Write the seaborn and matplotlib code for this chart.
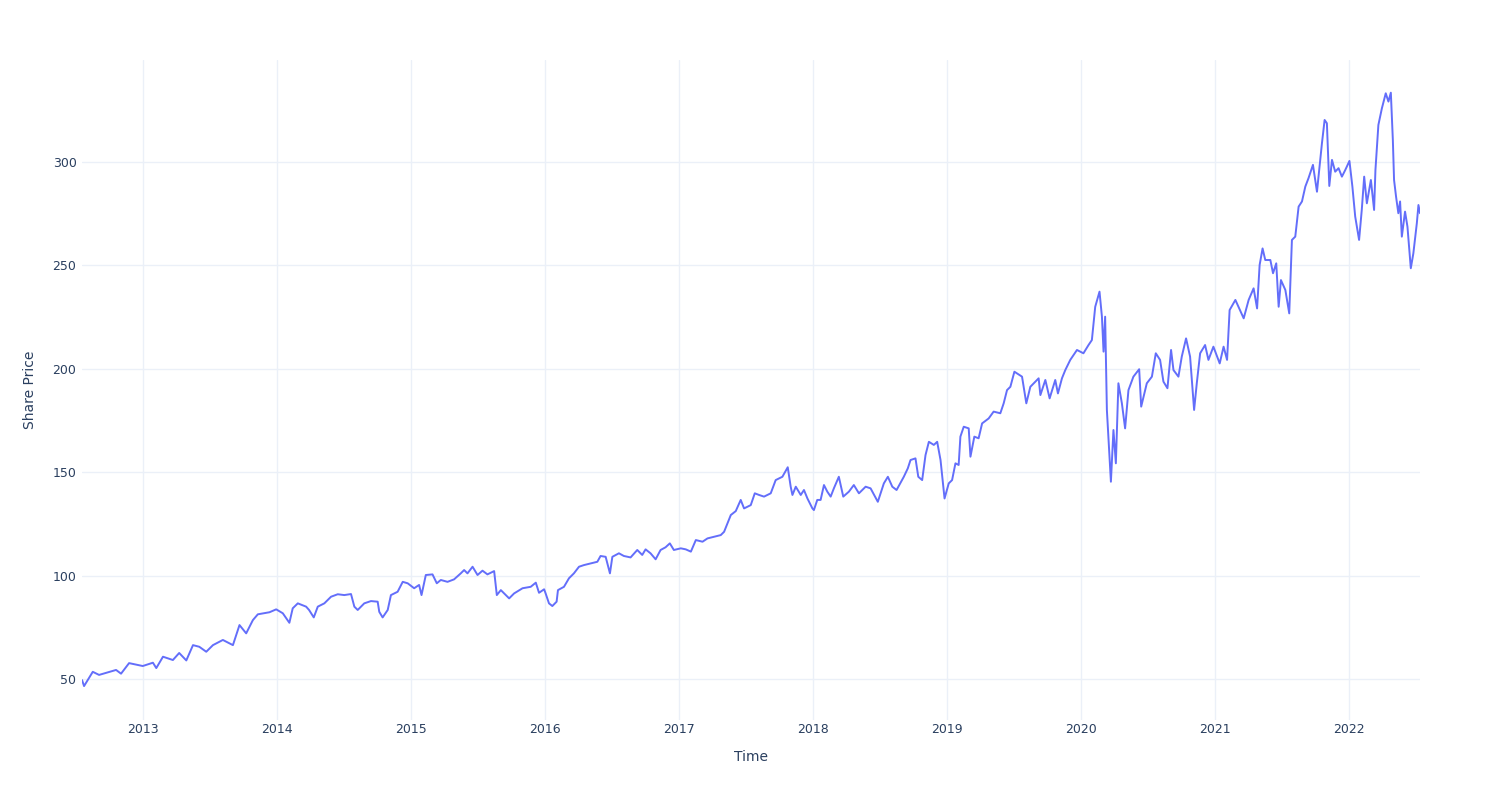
import pandas as pd
import matplotlib
matplotlib.use("Agg")
import matplotlib.pyplot as plt
import matplotlib.dates as mdates
import seaborn as sns

# Trading dates as fractional years
year_frac = [
    2012.545, 2012.560, 2012.625, 2012.672, 2012.799, 2012.836, 2012.896, 2012.998,
    2013.072, 2013.097, 2013.147, 2013.221, 2013.268, 2013.321, 2013.371, 2013.418,
    2013.470, 2013.520, 2013.594, 2013.669, 2013.718, 2013.768, 2013.818, 2013.855,
    2013.942, 2013.992, 2014.042, 2014.091, 2014.116, 2014.154, 2014.216, 2014.238,
    2014.273, 2014.303, 2014.352, 2014.402, 2014.452, 2014.501, 2014.551, 2014.576,
    2014.601, 2014.650, 2014.700, 2014.750, 2014.762, 2014.787, 2014.825, 2014.849,
    2014.899, 2014.937, 2014.974, 2015.023, 2015.060, 2015.078, 2015.110, 2015.160,
    2015.192, 2015.222, 2015.272, 2015.321, 2015.371, 2015.396, 2015.421, 2015.459,
    2015.496, 2015.533, 2015.570, 2015.620, 2015.640, 2015.670, 2015.732, 2015.769,
    2015.832, 2015.893, 2015.931, 2015.955, 2015.993, 2016.005, 2016.030, 2016.055,
    2016.087, 2016.097, 2016.142, 2016.179, 2016.216, 2016.254, 2016.291, 2016.341,
    2016.391, 2016.415, 2016.453, 2016.485, 2016.503, 2016.552, 2016.589, 2016.639,
    2016.689, 2016.726, 2016.751, 2016.788, 2016.826, 2016.863, 2016.900, 2016.932,
    2016.962, 2017.012, 2017.049, 2017.087, 2017.124, 2017.174, 2017.211, 2017.260,
    2017.310, 2017.335, 2017.385, 2017.422, 2017.459, 2017.484, 2017.534, 2017.564,
    2017.596, 2017.633, 2017.683, 2017.720, 2017.770, 2017.810, 2017.832, 2017.845,
    2017.870, 2017.907, 2017.931, 2017.957, 2017.994, 2018.006, 2018.031, 2018.056,
    2018.081, 2018.106, 2018.131, 2018.155, 2018.192, 2018.225, 2018.267, 2018.304,
    2018.342, 2018.392, 2018.429, 2018.483, 2018.528, 2018.558, 2018.591, 2018.623,
    2018.677, 2018.707, 2018.727, 2018.764, 2018.785, 2018.814, 2018.839, 2018.864,
    2018.901, 2018.926, 2018.951, 2018.981, 2019.013, 2019.038, 2019.063, 2019.087,
    2019.100, 2019.125, 2019.162, 2019.175, 2019.204, 2019.236, 2019.262, 2019.311,
    2019.348, 2019.398, 2019.423, 2019.448, 2019.473, 2019.503, 2019.560, 2019.592,
    2019.622, 2019.684, 2019.697, 2019.734, 2019.766, 2019.808, 2019.828, 2019.858,
    2019.883, 2019.920, 2019.970, 2020.019, 2020.057, 2020.082, 2020.107, 2020.139,
    2020.157, 2020.169, 2020.181, 2020.194, 2020.224, 2020.243, 2020.261, 2020.280,
    2020.306, 2020.330, 2020.355, 2020.392, 2020.435, 2020.450, 2020.492, 2020.530,
    2020.559, 2020.591, 2020.616, 2020.646, 2020.673, 2020.691, 2020.728, 2020.753,
    2020.785, 2020.815, 2020.845, 2020.865, 2020.890, 2020.927, 2020.952, 2020.989,
    2021.034, 2021.063, 2021.089, 2021.108, 2021.151, 2021.213, 2021.250, 2021.287,
    2021.313, 2021.332, 2021.354, 2021.374, 2021.412, 2021.432, 2021.456, 2021.474,
    2021.491, 2021.524, 2021.553, 2021.573, 2021.598, 2021.623, 2021.648, 2021.673,
    2021.697, 2021.730, 2021.760, 2021.797, 2021.817, 2021.834, 2021.852, 2021.872,
    2021.896, 2021.921, 2021.946, 2021.971, 2022.003, 2022.025, 2022.046, 2022.075,
    2022.095, 2022.113, 2022.133, 2022.163, 2022.187, 2022.197, 2022.219, 2022.245,
    2022.274, 2022.294, 2022.312, 2022.327, 2022.336, 2022.351, 2022.368, 2022.381,
    2022.394, 2022.418, 2022.436, 2022.461, 2022.480, 2022.506, 2022.518, 2022.530,
]

share_price = [
    49.5, 46.6, 53.5, 52.0, 54.4, 52.6, 57.7, 56.3,
    57.9, 55.3, 60.8, 59.2, 62.6, 59.0, 66.4, 65.6,
    63.2, 66.4, 68.9, 66.4, 76.1, 72.1, 78.5, 81.3,
    82.3, 83.7, 81.8, 77.2, 84.2, 86.6, 85.0, 83.4,
    79.8, 85.0, 86.6, 89.8, 91.0, 90.6, 91.1, 85.0,
    83.4, 86.6, 87.7, 87.4, 82.5, 79.8, 83.4, 90.6,
    92.2, 97.0, 96.3, 93.9, 95.5, 90.6, 100.3, 100.6,
    96.3, 97.9, 97.0, 98.2, 101.1, 102.7, 101.1, 104.3,
    100.3, 102.4, 100.6, 102.2, 90.6, 93.0, 89.0, 91.4,
    93.9, 94.6, 96.6, 91.7, 93.4, 91.4, 86.6, 85.3,
    87.4, 93.0, 94.6, 98.7, 101.1, 104.3, 105.1, 105.9,
    106.7, 109.5, 109.1, 101.1, 109.1, 110.8, 109.5, 108.8,
    112.4, 110.0, 112.7, 110.8, 107.9, 112.4, 113.7, 115.6,
    112.4, 113.2, 112.7, 111.6, 117.2, 116.4, 118.0, 118.8,
    119.6, 121.2, 129.3, 131.2, 136.6, 132.5, 134.1, 139.8,
    139.0, 138.2, 139.8, 146.2, 147.8, 152.4, 143.0, 139.0,
    143.0, 139.0, 141.4, 137.3, 132.5, 131.7, 136.6, 136.6,
    143.8, 140.6, 138.2, 142.2, 147.8, 138.2, 140.6, 143.8,
    139.8, 143.0, 142.2, 135.7, 144.6, 147.8, 143.0, 141.4,
    147.8, 151.9, 155.9, 156.7, 147.8, 146.2, 158.3, 164.7,
    163.2, 164.7, 155.9, 137.3, 144.6, 146.2, 154.3, 153.5,
    167.2, 172.0, 171.2, 157.5, 167.2, 166.4, 173.6, 176.0,
    179.3, 178.5, 183.3, 189.7, 191.3, 198.6, 196.2, 183.3,
    191.3, 195.4, 187.3, 194.6, 185.7, 194.6, 188.1, 195.4,
    199.4, 204.3, 209.1, 207.5, 211.5, 213.9, 230.0, 237.3,
    225.2, 208.3, 225.2, 180.1, 145.4, 170.4, 154.3, 193.0,
    183.3, 171.2, 189.7, 196.2, 199.8, 181.7, 193.0, 196.2,
    207.5, 204.3, 193.8, 190.6, 209.1, 199.4, 196.2, 205.9,
    214.7, 205.9, 180.1, 193.0, 207.5, 211.5, 204.3, 210.7,
    202.6, 210.7, 204.3, 228.4, 233.3, 224.4, 233.3, 238.9,
    229.2, 250.2, 258.2, 252.6, 252.6, 246.2, 251.0, 230.0,
    242.9, 238.1, 226.8, 262.3, 263.9, 278.4, 280.9, 288.1,
    292.2, 298.6, 285.6, 309.0, 320.3, 318.7, 288.4, 301.0,
    295.3, 297.0, 292.9, 296.1, 300.5, 288.1, 273.6, 262.3,
    276.8, 292.9, 280.0, 291.3, 276.8, 296.1, 317.9, 325.9,
    333.2, 329.2, 333.5, 310.6, 291.3, 283.2, 275.2, 280.9,
    263.9, 276.0, 268.7, 248.6, 255.8, 270.4, 279.2, 275.2,
]

y_ticks = [50, 100, 150, 200, 250, 300]


def to_date(y):
    year = int(y)
    return pd.Timestamp(year=year, month=1, day=1) + pd.to_timedelta((y - year) * 365.25, unit="D")


df = pd.DataFrame({"Time": [to_date(y) for y in year_frac], "Share Price": share_price})

sns.set_style("white")
plt.rcParams["font.family"] = ["DejaVu Sans"]

fig = plt.figure(figsize=(15, 8), dpi=100)
ax = fig.add_axes([0.0547, 0.1, 0.892, 0.825])

sns.lineplot(data=df, x="Time", y="Share Price", color="#636EFA", linewidth=1.4, estimator=None, ax=ax)

ax.set_xlim(df["Time"].iloc[0], df["Time"].iloc[-1])
ax.set_ylim(30.2, 349.3)
ax.set_yticks(y_ticks)
ax.xaxis.set_major_locator(mdates.YearLocator())
ax.xaxis.set_major_formatter(mdates.DateFormatter("%Y"))

ax.grid(True, color="#EBF0F8", linewidth=1)
ax.set_axisbelow(True)
for s in ax.spines.values():
    s.set_visible(False)
ax.tick_params(axis="both", length=0, labelsize=9, labelcolor="#2a3f5f")
ax.tick_params(axis="x", pad=2)
ax.tick_params(axis="y", pad=4)

ax.set_xlabel("Time", fontsize=10, color="#2a3f5f", labelpad=10)
ax.set_ylabel("Share Price", fontsize=10, color="#2a3f5f", labelpad=11)

fig.savefig("out.png", dpi=100, facecolor="white")
